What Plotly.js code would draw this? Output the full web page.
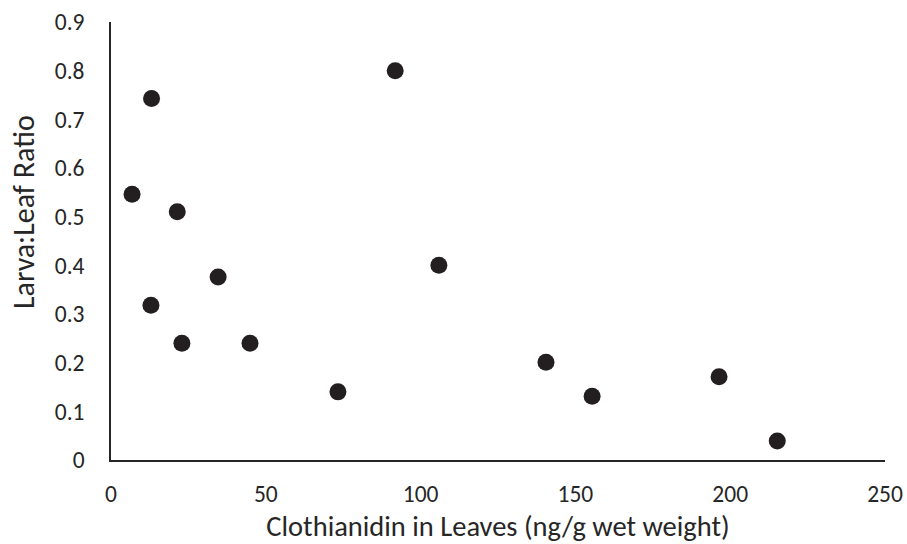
<!DOCTYPE html>
<html><head><meta charset="utf-8">
<script src="https://cdn.plot.ly/plotly-3.0.1.min.js"></script>
<style>body{margin:0;background:#fff}#c{width:907px;height:544px}</style>
</head><body><div id="c"></div>
<script>
const clothianidin = [6.8, 13.1, 21.4, 12.9, 22.9, 34.6, 44.9, 73.3, 91.8, 105.9, 140.5, 155.4, 196.4, 215.2];
const larvaLeafRatio = [0.546, 0.743, 0.510, 0.318, 0.240, 0.376, 0.240, 0.140, 0.800, 0.400, 0.201, 0.131, 0.171, 0.039];
const xTicks = [0, 50, 100, 150, 200, 250];
const yTicks = [0, 0.1, 0.2, 0.3, 0.4, 0.5, 0.6, 0.7, 0.8, 0.9];
const yTickText = ['0', '0.1', '0.2', '0.3', '0.4', '0.5', '0.6', '0.7', '0.8', '0.9'];
const xTitle = 'Clothianidin in Leaves (ng/g wet weight)';
const yTitle = 'Larva:Leaf Ratio';

const font = 'Carlito, "Open Sans", "Noto Sans", sans-serif';
Plotly.newPlot('c', [{
  x: clothianidin, y: larvaLeafRatio, type: 'scatter', mode: 'markers',
  marker: {size: 17, color: '#231f20'}
}], {
  width: 907, height: 544,
  margin: {l: 111, r: 22, t: 22, b: 84},
  paper_bgcolor: '#fff', plot_bgcolor: '#fff',
  showlegend: false,
  font: {family: font, color: '#262626', size: 23.5},
  xaxis: {
    range: [0, 250], tickvals: xTicks, ticks: '', showgrid: false, zeroline: false,
    showline: true, linecolor: '#262626', linewidth: 1.5, ticklabelstandoff: 12,
    title: {text: xTitle, font: {size: 28.5}, standoff: 10}
  },
  yaxis: {
    range: [0, 0.9], tickvals: yTicks, ticktext: yTickText, ticks: '', showgrid: false, zeroline: false,
    showline: true, linecolor: '#262626', linewidth: 1.5, ticklabelstandoff: 20
  },
  annotations: [{
    text: yTitle, xref: 'paper', yref: 'paper', x: 0, y: 0.566, xshift: -88,
    xanchor: 'center', yanchor: 'middle', textangle: -90, showarrow: false,
    font: {size: 30}
  }]
}, {displayModeBar: false});
</script></body></html>
